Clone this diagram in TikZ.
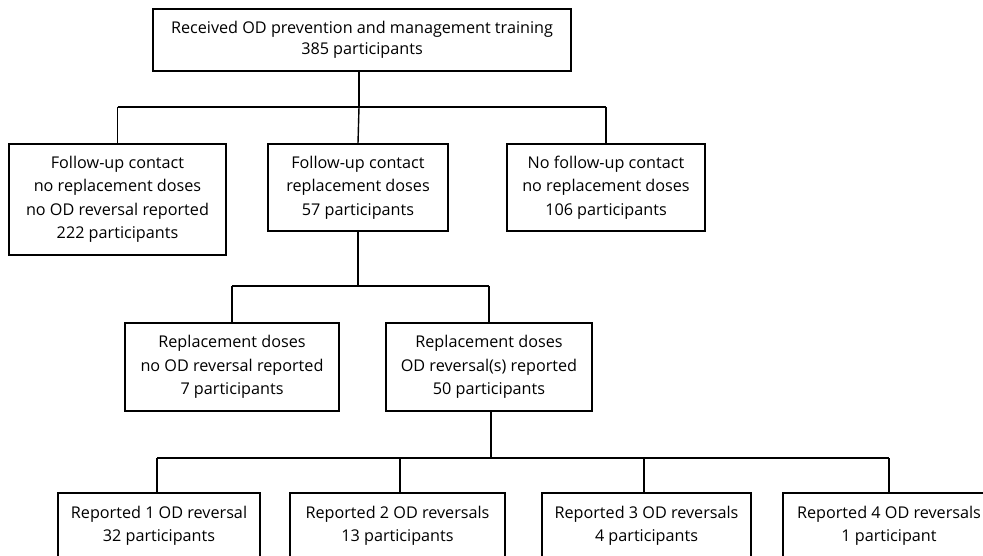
\documentclass[tikz,border=0pt]{standalone}
\usepackage{fontspec}
\setmainfont{Open Sans}
\begin{document}
\begin{tikzpicture}[x=1pt,y=-1pt,
  box/.style={draw, line width=1.4pt, align=center, inner sep=0pt,
    font=\fontsize{16.2}{23.5}\selectfont},
  conn/.style={line width=1.4pt}]
\useasboundingbox (0,0) rectangle (983,556);
\clip (0,0) rectangle (983,556);
% level 1
\node[box, minimum width=418pt, minimum height=62pt,
  font=\fontsize{16.2}{20.5}\selectfont] (top) at (362,40)
  {Received OD prevention and management training\\385 participants};
% level 2
\node[box, minimum width=217pt, minimum height=111pt] (l2a) at (117.5,199.5)
  {Follow-up contact\\no replacement doses\\no OD reversal reported\\222 participants};
\node[box, minimum width=180pt, minimum height=87pt] (l2b) at (358,187.5)
  {Follow-up contact\\replacement doses\\57 participants};
\node[box, minimum width=198pt, minimum height=87pt] (l2c) at (606,187.5)
  {No follow-up contact\\no replacement doses\\106 participants};
% level 3
\node[box, minimum width=214pt, minimum height=88pt] (l3a) at (232,367)
  {Replacement doses\\no OD reversal reported\\7 participants};
\node[box, minimum width=206pt, minimum height=88pt] (l3b) at (489,367)
  {Replacement doses\\OD reversal(s) reported\\50 participants};
% level 4
\node[box, minimum width=202pt, minimum height=66pt, font=\fontsize{16.2}{22.5}\selectfont] (l4a) at (159,526)
  {Reported 1 OD reversal\\32 participants};
\node[box, minimum width=215pt, minimum height=66pt, font=\fontsize{16.2}{22.5}\selectfont] (l4b) at (397.5,526)
  {Reported 2 OD reversals\\13 participants};
\node[box, minimum width=209pt, minimum height=66pt, font=\fontsize{16.2}{22.5}\selectfont] (l4c) at (646.5,526)
  {Reported 3 OD reversals\\4 participants};
\node[box, minimum width=212pt, minimum height=66pt, font=\fontsize{16.2}{22.5}\selectfont] (l4d) at (889,526)
  {Reported 4 OD reversals\\1 participant};
% connectors level 1 -> 2
\coordinate (j1) at (359,107);
\coordinate (j1a) at (117,107);
\coordinate (j1c) at (606,107);
\draw[conn] (top.south -| j1) -- (j1);
\draw[conn] (j1a -| l2a) -- (j1c -| l2c);
\draw[conn] (j1a -| l2a) -- (l2a.north);
\draw[conn] (j1) -- (l2b.north);
\draw[conn] (j1c -| l2c) -- (l2c.north);
% level 2 -> 3
\coordinate (j2) at (358,286);
\draw[conn] (l2b.south) -- (j2);
\draw[conn] (j2 -| l3a) -- (j2 -| l3b);
\draw[conn] (j2 -| l3a) -- (l3a.north);
\draw[conn] (j2 -| l3b) -- (l3b.north);
% level 3 -> 4
\coordinate (j3) at (491,458);
\coordinate (d1) at (157,458);
\coordinate (d2) at (400,458);
\coordinate (d3) at (644,458);
\coordinate (d4) at (889,458);
\draw[conn] (l3b.south -| j3) -- (j3);
\draw[conn] (d1) -- (d4);
\draw[conn] (d1) -- (d1 |- l4a.north);
\draw[conn] (d2) -- (d2 |- l4b.north);
\draw[conn] (d3) -- (d3 |- l4c.north);
\draw[conn] (d4) -- (d4 |- l4d.north);
\end{tikzpicture}
\end{document}
